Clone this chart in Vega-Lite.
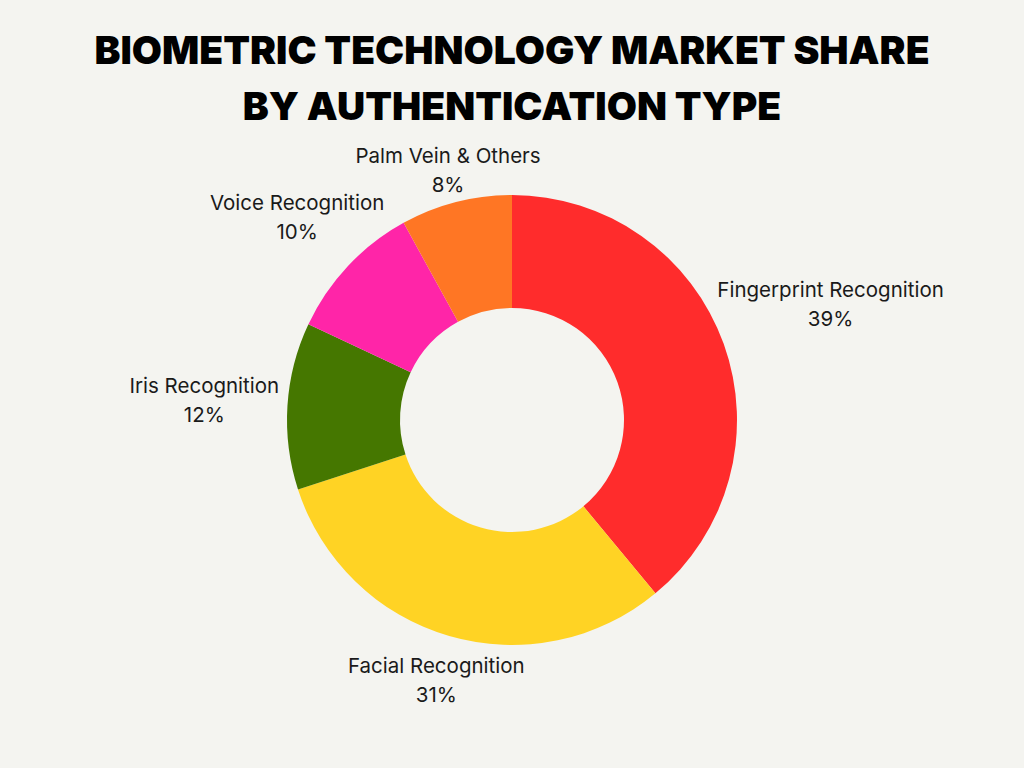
{
  "$schema": "https://vega.github.io/schema/vega-lite/v6.json",
  "width": 1024,
  "height": 580,
  "autosize": {"type": "none"},
  "padding": {"top": 130, "left": 0, "right": 0, "bottom": 58},
  "background": "#f4f4f0",
  "config": {"view": {"stroke": null}},
  "title": {
    "text": ["BIOMETRIC TECHNOLOGY MARKET SHARE", "BY AUTHENTICATION TYPE"],
    "font": "Inter",
    "fontWeight": 900,
    "fontSize": 39,
    "lineHeight": 56,
    "color": "#000000",
    "anchor": "middle",
    "offset": 2
  },
  "data": {
    "values": [
      {"rank": 1, "name": "Fingerprint Recognition", "value": 39},
      {"rank": 2, "name": "Facial Recognition", "value": 31},
      {"rank": 3, "name": "Iris Recognition", "value": 12},
      {"rank": 4, "name": "Voice Recognition", "value": 10},
      {"rank": 5, "name": "Palm Vein & Others", "value": 8}
    ]
  },
  "layer": [
    {
      "mark": {"type": "arc", "outerRadius": 225, "innerRadius": 112},
      "encoding": {
        "theta": {"field": "value", "type": "quantitative", "stack": true},
        "order": {"field": "rank", "type": "quantitative"},
        "color": {
          "field": "name",
          "type": "nominal",
          "scale": {
            "domain": ["Fingerprint Recognition", "Facial Recognition", "Iris Recognition", "Voice Recognition", "Palm Vein & Others"],
            "range": ["#ff2c2c", "#ffd324", "#457700", "#ff25a8", "#ff7624"]
          },
          "legend": null
        }
      }
    },
    {
      "mark": {"type": "text", "font": "Inter", "fontSize": 20.5, "color": "#1a1a1a", "dy": -14, "align": "center", "baseline": "middle"},
      "encoding": {
        "theta": {"field": "value", "type": "quantitative", "stack": true},
        "order": {"field": "rank", "type": "quantitative"},
        "radius": {"value": {"expr": "228 + 5*length(datum.name)*abs(sin(PI*(datum.value_start+datum.value_end)/100)) + 13*abs(cos(PI*(datum.value_start+datum.value_end)/100)) - 6*cos(PI*(datum.value_start+datum.value_end)/100)"}},
        "text": {"field": "name", "type": "nominal"}
      }
    },
    {
      "mark": {"type": "text", "font": "Inter", "fontSize": 20.5, "color": "#1a1a1a", "dy": 15, "align": "center", "baseline": "middle"},
      "encoding": {
        "theta": {"field": "value", "type": "quantitative", "stack": true},
        "order": {"field": "rank", "type": "quantitative"},
        "radius": {"value": {"expr": "228 + 5*length(datum.name)*abs(sin(PI*(datum.value_start+datum.value_end)/100)) + 13*abs(cos(PI*(datum.value_start+datum.value_end)/100)) - 6*cos(PI*(datum.value_start+datum.value_end)/100)"}},
        "text": {"value": {"expr": "datum.value + '%'"}}
      }
    }
  ]
}
